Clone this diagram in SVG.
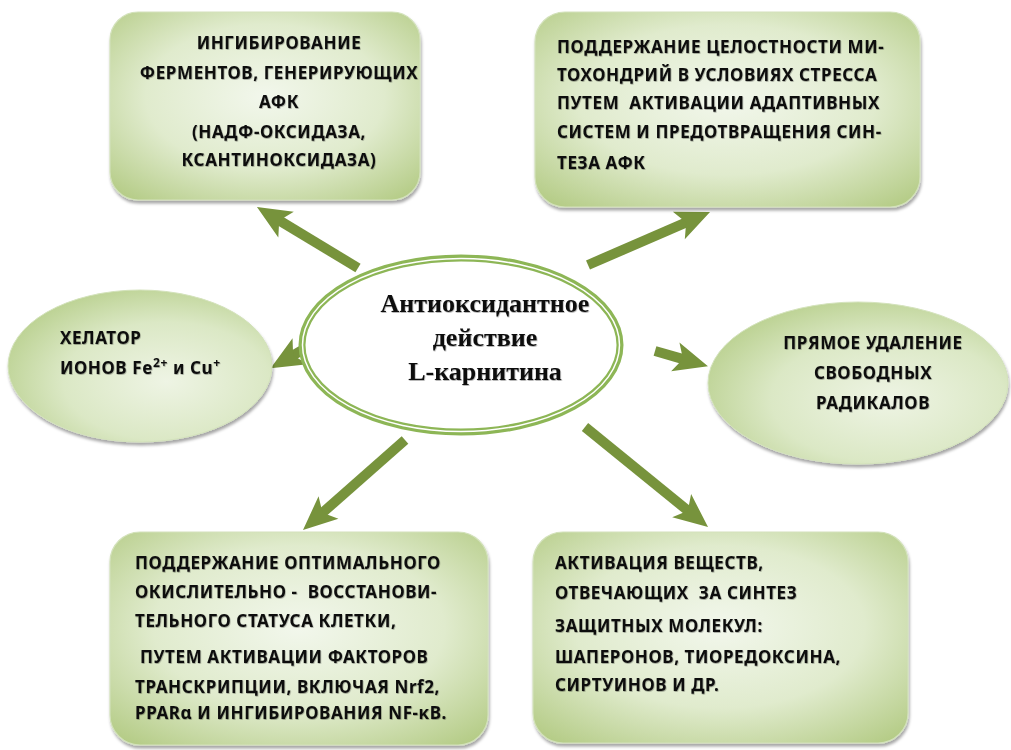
<svg xmlns="http://www.w3.org/2000/svg" width="1011" height="750" viewBox="0 0 1011 750">
<style>
.box{fill:url(#g);stroke:#d3e2bb;stroke-width:1.2;filter:url(#sh)}
.t{font-family:"Noto Sans","Open Sans",sans-serif;font-weight:bold;font-size:17px;letter-spacing:0.6px;fill:#111;filter:url(#ts)}
.c{font-family:"Liberation Serif","Times New Roman",serif;font-weight:bold;font-size:26px;fill:#111;filter:url(#ts)}
.arr{stroke:#77933c;stroke-width:10;fill:none;marker-end:url(#ah)}
</style>
<defs>
<radialGradient id="g" cx="50%" cy="45%" r="70%">
<stop offset="0" stop-color="#f2f7ec"/>
<stop offset="0.55" stop-color="#e0ebcd"/>
<stop offset="1" stop-color="#b5cc87"/>
</radialGradient>
<radialGradient id="ge" cx="60%" cy="60%" r="65%">
<stop offset="0" stop-color="#eef4e4"/>
<stop offset="0.6" stop-color="#dbe8c5"/>
<stop offset="1" stop-color="#bcd293"/>
</radialGradient>
<filter id="sh" x="-10%" y="-10%" width="120%" height="125%">
<feDropShadow dx="1" dy="3" stdDeviation="1.5" flood-color="#000" flood-opacity="0.35"/>
</filter>
<filter id="ts" x="-5%" y="-30%" width="110%" height="160%">
<feDropShadow dx="0.6" dy="0.8" stdDeviation="0.7" flood-color="#000" flood-opacity="0.35"/>
</filter>
<marker id="ah" markerUnits="userSpaceOnUse" viewBox="-8 -17 40 34" refX="4" refY="0" markerWidth="40" markerHeight="34" orient="auto">
<path d="M-6,-15 L28,0 L-6,15 L2,0 Z" fill="#77933c"/>
</marker>
</defs>

<g id="connectors">
<line class="arr" x1="358" y1="268" x2="277.5" y2="219.4"/>
<line class="arr" x1="588" y1="265" x2="688" y2="221.6"/>
<line class="arr" x1="304" y1="349" x2="291.4" y2="356.3"/>
<line class="arr" x1="655" y1="351" x2="684.9" y2="359.6"/>
<line class="arr" x1="405" y1="440" x2="321" y2="514.1"/>
<line class="arr" x1="585" y1="427" x2="689.4" y2="511.9"/>
</g>

<g id="center">
<ellipse cx="461" cy="345" rx="159" ry="87" fill="#fff" stroke="#8db656" stroke-width="7"/>
<ellipse cx="461" cy="345" rx="158.5" ry="86.5" fill="none" stroke="#fff" stroke-width="1.5"/>
<text class="c" text-anchor="middle"><tspan x="485" y="312">Антиоксидантное</tspan><tspan x="485" y="346">действие</tspan><tspan x="485" y="380">L-карнитина</tspan></text>
</g>

<g id="n-inhib">
<rect class="box" x="110" y="12" width="310" height="188" rx="28"/>
<text class="t" text-anchor="middle"><tspan x="279" y="49">ИНГИБИРОВАНИЕ</tspan><tspan x="279" y="79">ФЕРМЕНТОВ, ГЕНЕРИРУЮЩИХ</tspan><tspan x="279" y="108">АФК</tspan><tspan x="279" y="138">(НАДФ-ОКСИДАЗА,</tspan><tspan x="279" y="166">КСАНТИНОКСИДАЗА)</tspan></text>
</g>

<g id="n-mito">
<rect class="box" x="535" y="12" width="385" height="195" rx="30"/>
<text class="t"><tspan x="557" y="53">ПОДДЕРЖАНИЕ ЦЕЛОСТНОСТИ МИ-</tspan><tspan x="557" y="81">ТОХОНДРИЙ В УСЛОВИЯХ СТРЕССА</tspan><tspan x="557" y="109" xml:space="preserve">ПУТЕМ  АКТИВАЦИИ АДАПТИВНЫХ</tspan><tspan x="557" y="138">СИСТЕМ И ПРЕДОТВРАЩЕНИЯ СИН-</tspan><tspan x="557" y="169">ТЕЗА АФК</tspan></text>
</g>

<g id="n-chel">
<ellipse cx="140" cy="366" rx="132" ry="76" fill="url(#ge)" stroke="#d3e2bb" stroke-width="1" filter="url(#sh)"/>
<text class="t"><tspan x="60" y="344">ХЕЛАТОР</tspan><tspan x="60" y="374">ИОНОВ Fe<tspan dy="-7" font-size="12">2+</tspan><tspan dy="7"> и Cu</tspan><tspan dy="-7" font-size="12">+</tspan></tspan></text>
</g>

<g id="n-direct">
<ellipse cx="858" cy="383" rx="150" ry="81" fill="url(#ge)" stroke="#d3e2bb" stroke-width="1" filter="url(#sh)"/>
<text class="t" text-anchor="middle"><tspan x="873" y="349">ПРЯМОЕ УДАЛЕНИЕ</tspan><tspan x="873" y="379">СВОБОДНЫХ</tspan><tspan x="873" y="409">РАДИКАЛОВ</tspan></text>
</g>

<g id="n-redox">
<rect class="box" x="110" y="532" width="378" height="213" rx="30"/>
<text class="t"><tspan x="135" y="569">ПОДДЕРЖАНИЕ ОПТИМАЛЬНОГО</tspan><tspan x="135" y="598" xml:space="preserve">ОКИСЛИТЕЛЬНО -  ВОССТАНОВИ-</tspan><tspan x="135" y="627">ТЕЛЬНОГО СТАТУСА КЛЕТКИ,</tspan><tspan x="140" y="663">ПУТЕМ АКТИВАЦИИ ФАКТОРОВ</tspan><tspan x="135" y="693">ТРАНСКРИПЦИИ, ВКЛЮЧАЯ Nrf2,</tspan><tspan x="135" y="719">PPARα И ИНГИБИРОВАНИЯ NF-κB.</tspan></text>
</g>

<g id="n-act">
<rect class="box" x="533" y="532" width="375" height="211" rx="30"/>
<text class="t"><tspan x="555" y="569">АКТИВАЦИЯ ВЕЩЕСТВ,</tspan><tspan x="555" y="599" xml:space="preserve">ОТВЕЧАЮЩИХ  ЗА СИНТЕЗ</tspan><tspan x="555" y="632">ЗАЩИТНЫХ МОЛЕКУЛ:</tspan><tspan x="555" y="663">ШАПЕРОНОВ, ТИОРЕДОКСИНА,</tspan><tspan x="555" y="691">СИРТУИНОВ И ДР.</tspan></text>
</g>
</svg>
